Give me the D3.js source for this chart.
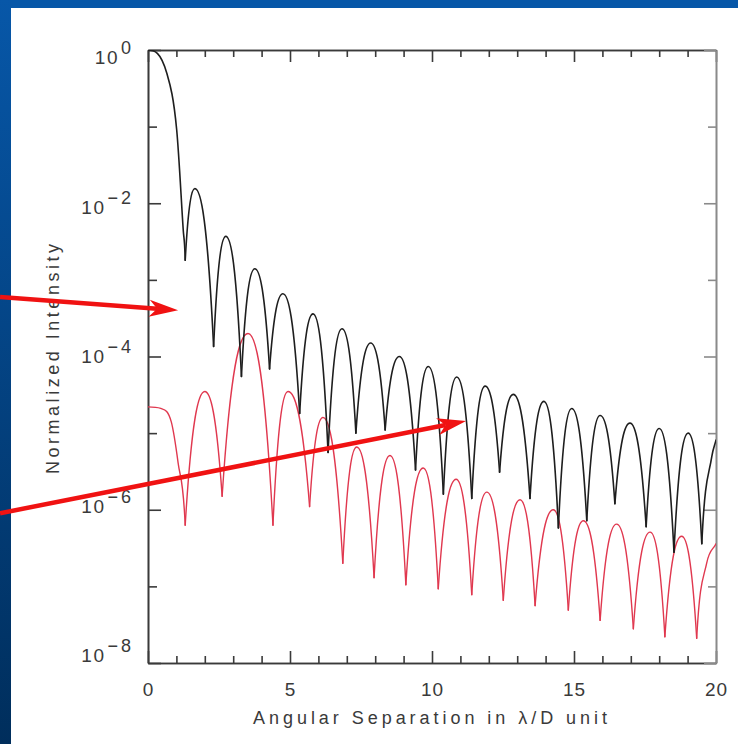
<!DOCTYPE html>
<html>
<head>
<meta charset="utf-8">
<script src="https://cdn.jsdelivr.net/npm/d3@7"></script>
<style>
  body { margin: 0; background: #fff; }
  svg { display: block; font-family: "Liberation Sans", Arial, sans-serif; }
  .axis path, .axis line { stroke: #3a3a3a; stroke-width: 1.6; }
  .axis text { fill: #3a3a3a; font-size: 19px; letter-spacing: 1px; }
</style>
</head>
<body>
<div id="chart"></div>
<script>
// values: separation (lambda/D) and normalized intensity
var blackX = [0, 0.66, 1.01, 1.24, 1.31, 1.65, 2.31, 2.74, 3.29, 3.76, 4.28, 4.75, 5.34, 5.81,
  6.34, 6.83, 7.32, 7.84, 8.35, 8.85, 9.42, 9.87, 10.40, 10.87, 11.40, 11.87, 12.38, 12.86,
  13.45, 13.94, 14.45, 14.92, 15.45, 15.92, 16.44, 16.97, 17.54, 18.0, 18.52, 19.02, 19.5,
  19.85, 20];
var blackY = [1, 0.5, 9.1e-2, 4.5e-3, 1.8e-3, 1.55e-2, 1.35e-4, 3.7e-3, 5.5e-5, 1.4e-3, 6.9e-5,
  6.6e-4, 1.8e-5, 3.6e-4, 5.6e-6, 2.3e-4, 1.0e-5, 1.5e-4, 1.1e-5, 1.0e-4, 3.3e-6, 7.4e-5,
  1.6e-6, 5.4e-5, 1.4e-6, 4.1e-5, 3.1e-6, 3.2e-5, 1.4e-6, 2.6e-5, 5.8e-7, 2.1e-5, 7.2e-7,
  1.7e-5, 1.2e-6, 1.35e-5, 6.0e-7, 1.15e-5, 2.8e-7, 1.0e-5, 3.6e-7, 4.9e-6, 8.1e-6];

var redX = [0, 0.45, 0.82, 1.06, 1.31, 2.0, 2.61, 3.52, 4.40, 4.93, 5.69, 6.16, 6.86, 7.35,
  7.96, 8.52, 9.08, 9.69, 10.22, 10.85, 11.40, 11.93, 12.51, 13.1, 13.63, 14.27, 14.8, 15.33,
  15.92, 16.5, 17.09, 17.68, 18.2, 18.79, 19.32, 19.67, 20];
var redY = [2.2e-5, 2.1e-5, 1.4e-5, 4.1e-6, 6.3e-7, 3.5e-5, 1.5e-6, 2.0e-4, 6.3e-7, 3.5e-5,
  1.1e-6, 1.6e-5, 2.0e-7, 6.6e-6, 1.3e-7, 5.1e-6, 1.05e-7, 3.5e-6, 9.3e-8, 2.5e-6, 7.8e-8,
  1.7e-6, 6.6e-8, 1.35e-6, 5.6e-8, 1.0e-6, 4.9e-8, 7.2e-7, 3.6e-8, 6.5e-7, 2.8e-8, 5.1e-7,
  2.2e-8, 4.5e-7, 2.1e-8, 2.0e-7, 3.6e-7];

var xMajorTicks = [0, 5, 10, 15, 20];
var xMinorTicks = [1, 2, 3, 4, 6, 7, 8, 9, 11, 12, 13, 14, 16, 17, 18, 19];
var yMajorTicks = [1, 1e-2, 1e-4, 1e-6, 1e-8];
var yMinorTicks = [1e-1, 1e-3, 1e-5, 1e-7];
var yExponents = [0, -2, -4, -6, -8];

// red annotation arrows, [tail, head] in data units
var arrowTails = [[-5.21, 5.96e-4], [-5.21, 9.0e-7]];
var arrowHeads = [[1.06, 4.0e-4], [11.2, 1.44e-5]];

var svgWidth = 738;
var svgHeight = 744;
var margin = { top: 50, right: 22, bottom: 81, left: 148 };
var width = svgWidth - margin.left - margin.right;
var height = svgHeight - margin.top - margin.bottom;

var svg = d3.select("#chart")
  .append("svg")
  .attr("width", svgWidth)
  .attr("height", svgHeight);

// blue slide background strips
var defs = svg.append("defs");
var grad = defs.append("linearGradient")
  .attr("id", "side")
  .attr("x1", 0).attr("y1", 0).attr("x2", 0).attr("y2", 1);
grad.append("stop").attr("offset", "0%").attr("stop-color", "#0757a8");
grad.append("stop").attr("offset", "100%").attr("stop-color", "#002e5c");

svg.append("rect").attr("width", svgWidth).attr("height", 8).attr("fill", "#0757a8");
svg.append("rect").attr("width", 11).attr("height", svgHeight).attr("fill", "url(#side)");

defs.append("clipPath").attr("id", "plotclip")
  .append("rect").attr("width", width).attr("height", height);

var chartGroup = svg.append("g")
  .attr("transform", `translate(${margin.left}, ${margin.top})`);

var x = d3.scaleLinear().domain([0, 20]).range([0, width]);
var y = d3.scaleLog().domain([1e-8, 1]).range([height, 0]);
// tick labels drift slightly against the ticks in the original
var yLab = d3.scaleLog().domain([1e-8, 1]).range([612, 14]);

// axes: minor and major ticks, all pointing inward
function addAxis(axis, tr, cls) {
  return chartGroup.append("g")
    .attr("class", "axis " + (cls || ""))
    .attr("transform", tr)
    .call(axis);
}

addAxis(d3.axisBottom(x).tickValues(xMinorTicks).tickSize(-7).tickSizeOuter(0).tickFormat(""),
  `translate(0, ${height})`);
addAxis(d3.axisBottom(x).tickValues(xMajorTicks).tickSize(-12).tickSizeOuter(0).tickPadding(20)
  .tickFormat(d3.format("d")), `translate(0, ${height})`);
addAxis(d3.axisTop(x).tickValues(xMinorTicks).tickSize(-7).tickSizeOuter(0).tickFormat(""),
  "translate(0,0)");
addAxis(d3.axisTop(x).tickValues(xMajorTicks).tickSize(-12).tickSizeOuter(0).tickFormat(""),
  "translate(0,0)");

addAxis(d3.axisLeft(y).tickValues(yMinorTicks).tickSize(-9).tickSizeOuter(0).tickFormat(""),
  "translate(0,0)");
addAxis(d3.axisLeft(y).tickValues(yMajorTicks).tickSize(-13).tickSizeOuter(0).tickFormat(""),
  "translate(0,0)");
addAxis(d3.axisRight(y).tickValues(yMinorTicks).tickSize(-8).tickSizeOuter(0).tickFormat(""),
  `translate(${width},0)`, "right");
addAxis(d3.axisRight(y).tickValues(yMajorTicks).tickSize(-12).tickSizeOuter(0).tickFormat(""),
  `translate(${width},0)`, "right");

chartGroup.selectAll(".right path, .right line").style("stroke", "#8a8a8a");

// y tick labels as 10 with superscript
var yLabels = chartGroup.append("g")
  .selectAll("text")
  .data(yMajorTicks)
  .enter()
  .append("text")
  .attr("x", -14)
  .attr("y", d => yLab(d))
  .attr("text-anchor", "end")
  .attr("fill", "#3a3a3a")
  .style("font-size", "19px")
  .style("letter-spacing", "1.5px");
yLabels.append("tspan").text("10");
yLabels.append("tspan")
  .attr("dx", 2)
  .attr("dy", -10)
  .style("font-size", "18px")
  .style("letter-spacing", "3px")
  .text((d, i) => yExponents[i] === 0 ? "0" : "\u2212" + Math.abs(yExponents[i]));

// axis titles
chartGroup.append("text")
  .attr("x", 282)
  .attr("y", 674)
  .attr("text-anchor", "middle")
  .attr("textLength", 354)
  .attr("lengthAdjust", "spacing")
  .attr("fill", "#3a3a3a")
  .style("font-size", "18px")
  .text("Angular Separation in \u03bb/D unit");

chartGroup.append("text")
  .attr("transform", "translate(-89, 309) rotate(-90)")
  .attr("text-anchor", "middle")
  .attr("textLength", 230)
  .attr("lengthAdjust", "spacing")
  .attr("fill", "#3a3a3a")
  .style("font-size", "18px")
  .text("Normalized Intensity");

// split a series into lobes at its nulls so each null stays a sharp cusp
function lobes(xs, ys) {
  var pts = xs.map((d, i) => [d, ys[i]]);
  var out = [];
  var cur = [pts[0]];
  for (var i = 1; i < pts.length; i++) {
    cur.push(pts[i]);
    if (i < pts.length - 1 && pts[i][1] < pts[i - 1][1] && pts[i][1] < pts[i + 1][1]) {
      out.push(cur);
      cur = [pts[i]];
    }
  }
  out.push(cur);
  return out;
}

// hermite path through one lobe: flat at peaks, steep at the nulls
function lobePath(lobe, first, last) {
  var p = lobe.map(d => [x(d[0]), y(d[1])]);
  var n = p.length;
  var s = [];
  for (var i = 0; i < n - 1; i++) s.push((p[i + 1][1] - p[i][1]) / (p[i + 1][0] - p[i][0]));
  var m = [];
  for (var i = 0; i < n; i++) {
    if (i === 0) {
      var isNull = lobe[0][1] < lobe[1][1];
      m.push(isNull ? 2.4 * s[0] : (first ? 0 : s[0]));
    } else if (i === n - 1) {
      var isNull2 = lobe[n - 1][1] < lobe[n - 2][1];
      m.push(isNull2 ? 2.4 * s[n - 2] : (last ? s[n - 2] : 0));
    } else if (s[i - 1] * s[i] <= 0) {
      m.push(0);
    } else {
      var a = (s[i - 1] + s[i]) / 2;
      var lim = 3 * Math.min(Math.abs(s[i - 1]), Math.abs(s[i]));
      m.push(Math.sign(a) * Math.min(Math.abs(a), lim));
    }
  }
  var path = d3.path();
  path.moveTo(p[0][0], p[0][1]);
  for (var i = 0; i < n - 1; i++) {
    var dx = (p[i + 1][0] - p[i][0]) / 3;
    path.bezierCurveTo(p[i][0] + dx, p[i][1] + m[i] * dx,
      p[i + 1][0] - dx, p[i + 1][1] - m[i + 1] * dx,
      p[i + 1][0], p[i + 1][1]);
  }
  return path.toString();
}

function drawSeries(xs, ys, cls, color, w) {
  var parts = lobes(xs, ys);
  curves.selectAll("." + cls)
    .data(parts)
    .enter()
    .append("path")
    .attr("class", cls)
    .attr("d", (d, i) => lobePath(d, i === 0, i === parts.length - 1))
    .attr("fill", "none")
    .attr("stroke", color)
    .attr("stroke-width", w)
    .attr("stroke-linecap", "round");
}

var curves = chartGroup.append("g").attr("clip-path", "url(#plotclip)");
drawSeries(redX, redY, "red", "#e0384f", 1.4);
drawSeries(blackX, blackY, "black", "#1e1e1e", 1.6);

// annotation arrows
var arrows = chartGroup.append("g");
arrowTails.forEach(function(t, i) {
  var h = arrowHeads[i];
  var x0 = x(t[0]), y0 = y(t[1]), x1 = x(h[0]), y1 = y(h[1]);
  var len = Math.hypot(x1 - x0, y1 - y0);
  var ux = (x1 - x0) / len, uy = (y1 - y0) / len;
  var headLen = 29, half = 8.5, notch = 21;
  arrows.append("line")
    .attr("x1", x0).attr("y1", y0)
    .attr("x2", x1 - ux * notch).attr("y2", y1 - uy * notch)
    .attr("stroke", "#f01212")
    .attr("stroke-width", 4.5);
  var bx = x1 - ux * headLen, by = y1 - uy * headLen;
  var pts = [
    [x1, y1],
    [bx - uy * half, by + ux * half],
    [x1 - ux * notch, y1 - uy * notch],
    [bx + uy * half, by - ux * half]
  ];
  arrows.append("path")
    .attr("d", "M" + pts.join("L") + "Z")
    .attr("fill", "#f01212");
});
</script>
</body>
</html>
